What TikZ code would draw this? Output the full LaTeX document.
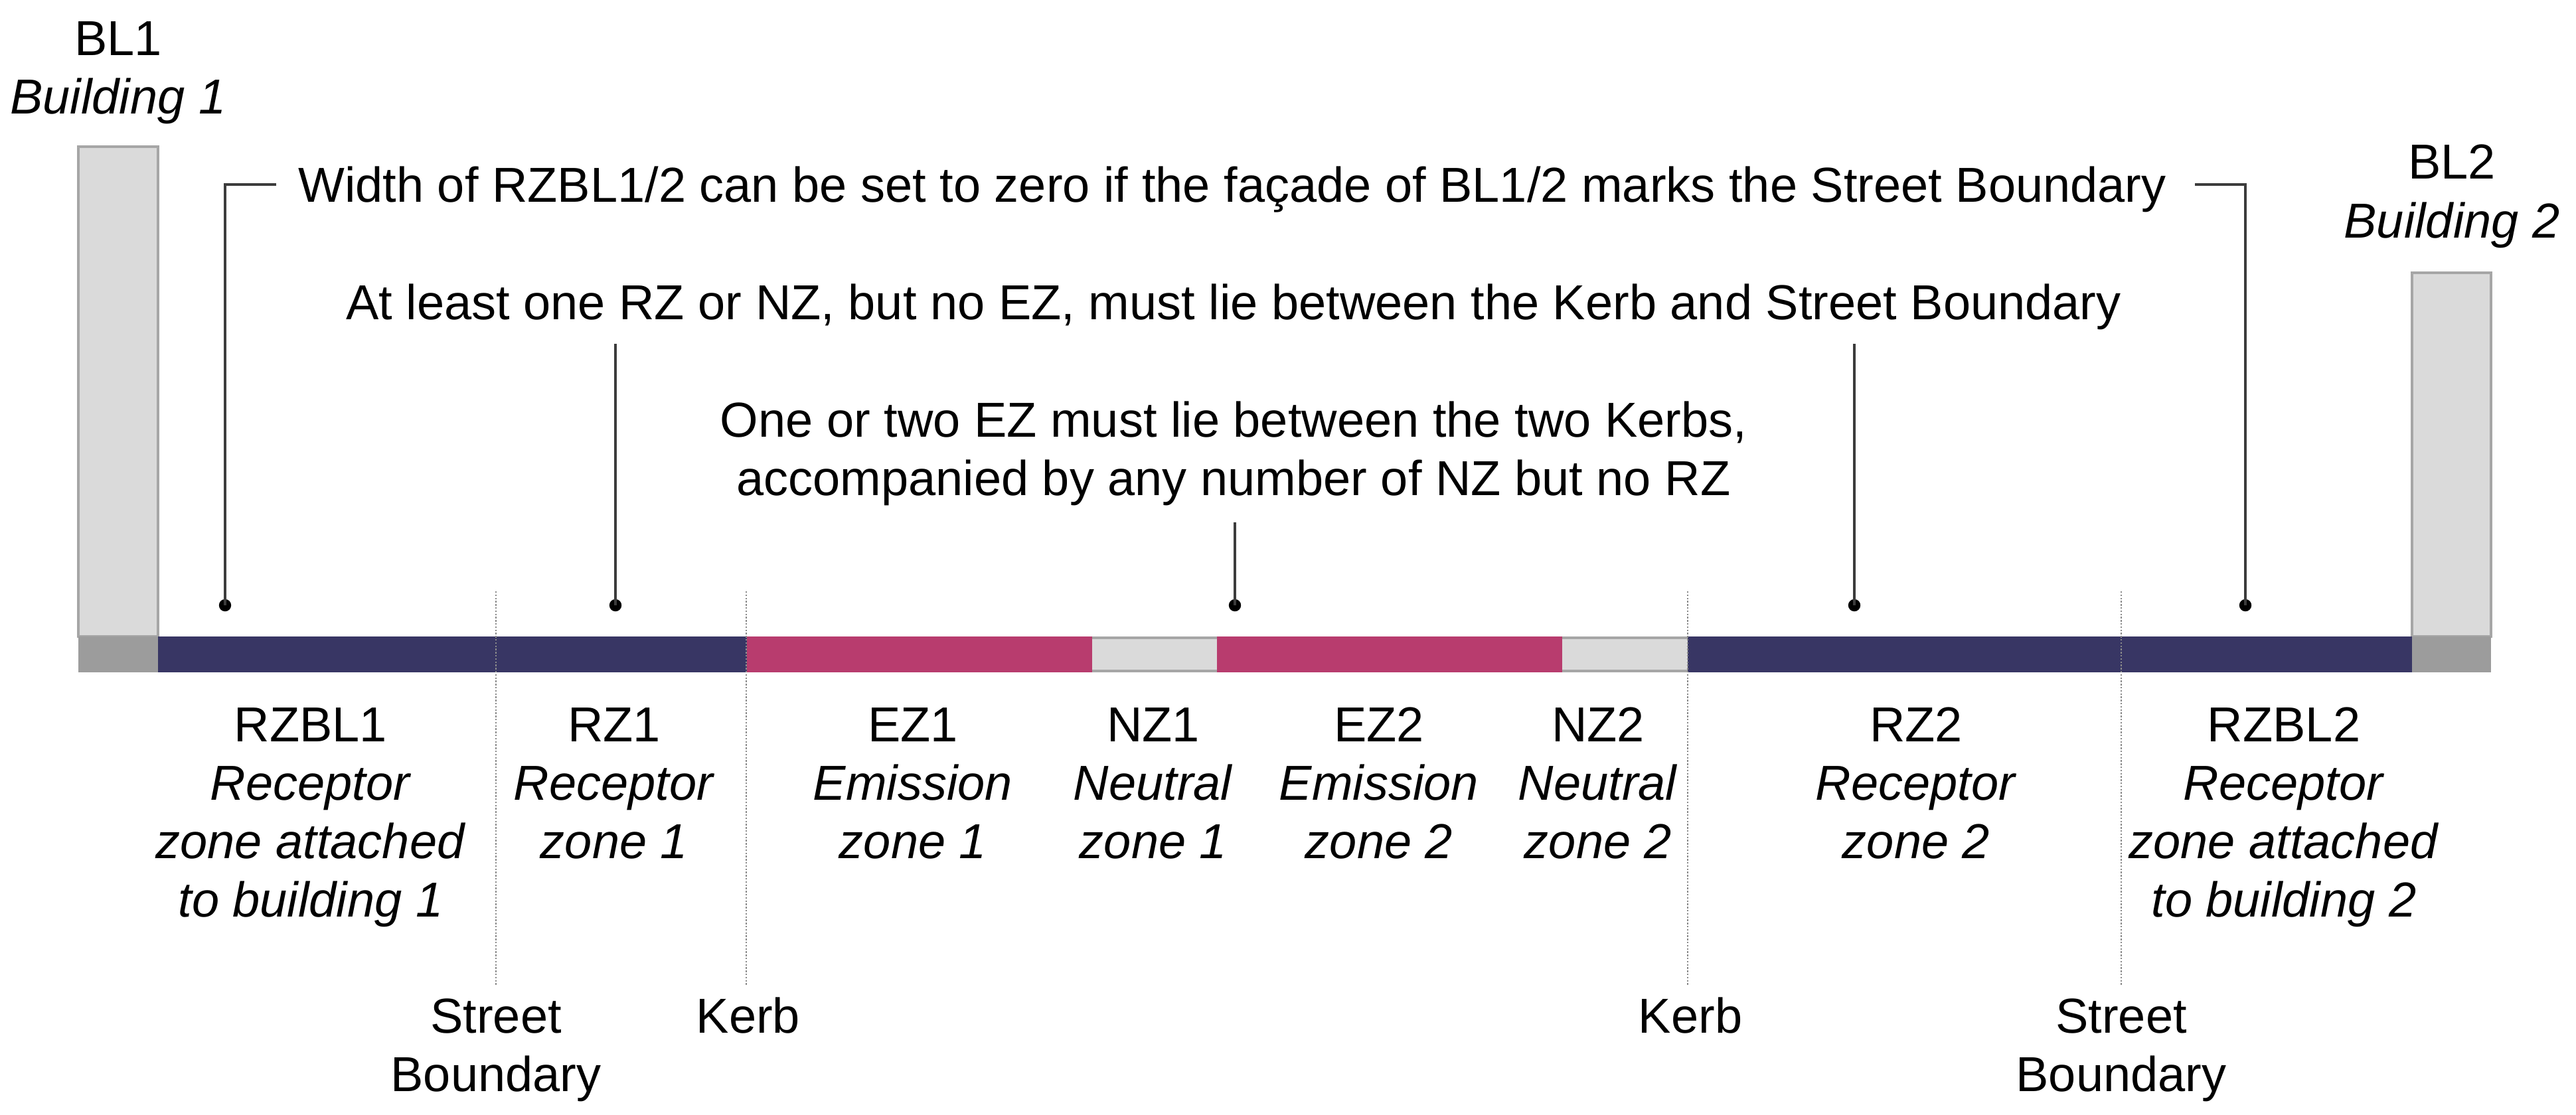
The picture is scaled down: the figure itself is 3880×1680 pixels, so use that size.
\documentclass[tikz,border=0pt]{standalone}
\usepackage{fontspec}
\setmainfont{Liberation Sans}
\definecolor{navy}{HTML}{383664}
\definecolor{pinkz}{HTML}{B83C6E}
\definecolor{lgray}{HTML}{DADADA}
\definecolor{dgray}{HTML}{9C9C9C}
\definecolor{bordgray}{HTML}{A6A6A6}
\definecolor{leadc}{HTML}{3C3C3C}
\definecolor{dotc}{HTML}{8A8A8A}
\begin{document}
\begin{tikzpicture}[x=0.25pt,y=-0.25pt,
  txt/.style={font=\fontsize{18.5}{22}\selectfont, inner sep=0pt, anchor=base, align=center},
  lead/.style={draw=leadc, line width=0.8pt},
  dotn/.style={circle, fill=black, inner sep=0pt, minimum size=4.6pt},
  vline/.style={draw=dotc, line width=0.5pt, dash pattern=on 0.6pt off 0.6pt},
  bldg/.style={fill=lgray, draw=bordgray, line width=1pt}
]
\useasboundingbox (0,0) rectangle (3880,1680);

% buildings
\path[bldg] (118,221) rectangle (238,959);
\path[bldg] (3633,411) rectangle (3752,959);

% bar segments
\fill[dgray] (118,959) rectangle (238,1013);
\fill[navy] (238,959) rectangle (1125,1013);
\fill[pinkz] (1125,959) rectangle (1645,1013);
\fill[lgray] (1645,959) rectangle (1833,1013);
\draw[bordgray, line width=0.8pt] (1645,961) -- (1833,961) (1645,1011) -- (1833,1011);
\fill[pinkz] (1833,959) rectangle (2353,1013);
\fill[lgray] (2353,959) rectangle (2542,1013);
\draw[bordgray, line width=0.8pt] (2353,961) -- (2542,961) (2353,1011) -- (2542,1011);
\fill[navy] (2542,959) rectangle (3633,1013);
\fill[dgray] (3633,959) rectangle (3752,1013);

% dotted boundaries
\coordinate (sb1t) at (747,891);  \coordinate (sb1b) at (747,1486);
\coordinate (kb1t) at (1124,891); \coordinate (kb1b) at (1124,1486);
\coordinate (kb2t) at (2542,891); \coordinate (kb2b) at (2542,1486);
\coordinate (sb2t) at (3195,891); \coordinate (sb2b) at (3195,1486);
\draw[vline] (sb1t) -- (sb1b);
\draw[vline] (kb1t) -- (kb1b);
\draw[vline] (kb2t) -- (kb2b);
\draw[vline] (sb2t) -- (sb2b);

% building labels (base = last line's baseline)
\node[txt] (bl1) at (178,172) {BL1\\\textit{Building 1}};
\node[txt] (bl2) at (3693,358) {BL2\\\textit{Building 2}};

% annotation texts
\node[txt] (note1) at (1856,305) {Width of RZBL1/2 can be set to zero if the façade of BL1/2 marks the Street Boundary};
\node[txt] (note2) at (1858,482) {At least one RZ or NZ, but no EZ, must lie between the Kerb and Street Boundary};
\node[txt] (note3) at (1858,746) {One or two EZ must lie between the two Kerbs,\\accompanied by any number of NZ but no RZ};

% leaders
\coordinate (c1) at (416,278);
\coordinate (c2) at (3306,278);
\coordinate (c3) at (927,518);
\coordinate (c4) at (2793,518);
\coordinate (c5) at (1860,787);
\node[dotn] (d1) at (339,912) {};
\node[dotn] (d2) at (927,912) {};
\node[dotn] (d3) at (2793,912) {};
\node[dotn] (d4) at (1860,912) {};
\node[dotn] (d5) at (3382,912) {};
\draw[lead] (c1) -| (d1.center);
\draw[lead] (c2) -| (d5.center);
\draw[lead] (c3) -- (d2.center);
\draw[lead] (c4) -- (d3.center);
\draw[lead] (c5) -- (d4.center);

% zone labels
\node[txt] (rzbl1) at (468,1381) {RZBL1\\\textit{Receptor}\\\textit{zone attached}\\\textit{to building 1}};
\node[txt] (rz1) at (925,1293) {RZ1\\\textit{Receptor}\\\textit{zone 1}};
\node[txt] (ez1) at (1375,1293) {EZ1\\\textit{Emission}\\\textit{zone 1}};
\node[txt] (nz1) at (1737,1293) {NZ1\\\textit{Neutral}\\\textit{zone 1}};
\node[txt] (ez2) at (2077,1293) {EZ2\\\textit{Emission}\\\textit{zone 2}};
\node[txt] (nz2) at (2407,1293) {NZ2\\\textit{Neutral}\\\textit{zone 2}};
\node[txt] (rz2) at (2886,1293) {RZ2\\\textit{Receptor}\\\textit{zone 2}};
\node[txt] (rzbl2) at (3440,1381) {RZBL2\\\textit{Receptor}\\\textit{zone attached}\\\textit{to building 2}};

% boundary labels
\node[txt] (sbl1) at (747,1644) {Street\\Boundary};
\node[txt] (kbl1) at (1127,1556) {Kerb};
\node[txt] (kbl2) at (2546,1556) {Kerb};
\node[txt] (sbl2) at (3195,1644) {Street\\Boundary};
\end{tikzpicture}
\end{document}
